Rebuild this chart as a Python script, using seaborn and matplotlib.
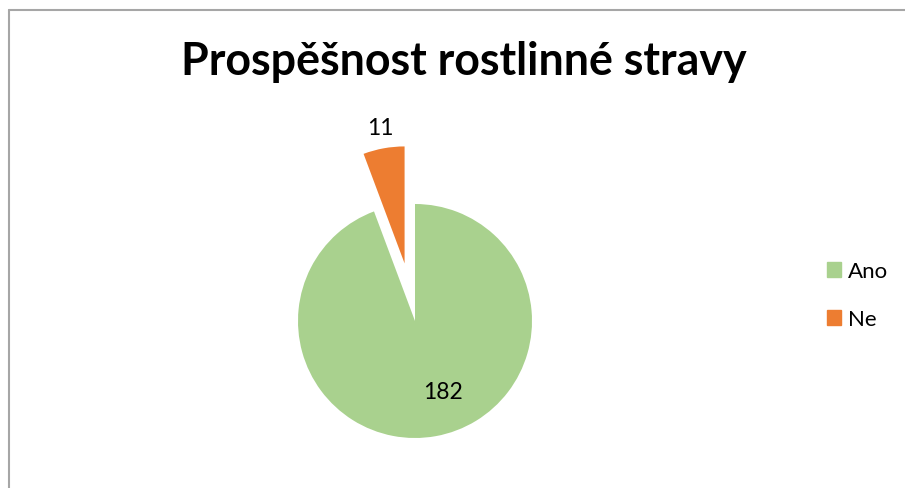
import numpy as np
import pandas as pd
import seaborn as sns
import matplotlib
matplotlib.use('Agg')
import matplotlib.pyplot as plt
from matplotlib.lines import Line2D

# data
categories = ['Ano', 'Ne']
values = [182, 11]
colors = ['#A9D18E', '#ED7D31']

sns.set_style('white')
plt.rcParams['font.family'] = ['Lato', 'DejaVu Sans']
plt.rcParams['text.color'] = 'black'

W, H = 905, 489
fig = plt.figure(figsize=(W / 100, H / 100), dpi=100)

# pie centre / radius in pixels
cx, cy, r = 415, 322, 117
half = 220
ax = fig.add_axes([(cx - half) / W, (H - cy - half) / H, 2 * half / W, 2 * half / H])
wedges, _ = ax.pie(values, colors=colors, startangle=90, counterclock=False,
                   explode=[0, 0.5], radius=1, wedgeprops=dict(linewidth=0))
lim = half / r
ax.set_xlim(-lim, lim)
ax.set_ylim(-lim, lim)
ax.set_aspect('equal')
ax.axis('off')

# data labels
ax.text(0.24, -0.60, str(values[0]), ha='center', va='center', fontsize=16.5)
ang = np.deg2rad(90 + 360 * values[1] / sum(values) / 2)
ax.text(1.685 * np.cos(ang), 1.685 * np.sin(ang), str(values[1]),
        ha='center', va='center', fontsize=16.5)

fig.text(464 / W, 1 - 62 / H, 'Prospěšnost rostlinné stravy', ha='center', va='center',
         fontsize=32.2, fontweight='bold')

handles = [plt.Rectangle((0, 0), 1, 1, color=c) for c in colors]
fig.legend(handles, categories, loc='center left', bbox_to_anchor=(807 / W, 1 - 296 / H),
           frameon=False, fontsize=16, handlelength=0.65, handleheight=0.65,
           handletextpad=0.3, labelspacing=1.25)

# chart border (only top and left visible in the crop)
fig.add_artist(Line2D([8.5 / W, 8.5 / W], [0, 1 - 11 / H], transform=fig.transFigure,
                      color='#A6A6A6', lw=1.5))
fig.add_artist(Line2D([8.5 / W, 1], [1 - 11 / H, 1 - 11 / H], transform=fig.transFigure,
                      color='#A6A6A6', lw=1.5))

fig.savefig('out.png', dpi=100, facecolor='white')
